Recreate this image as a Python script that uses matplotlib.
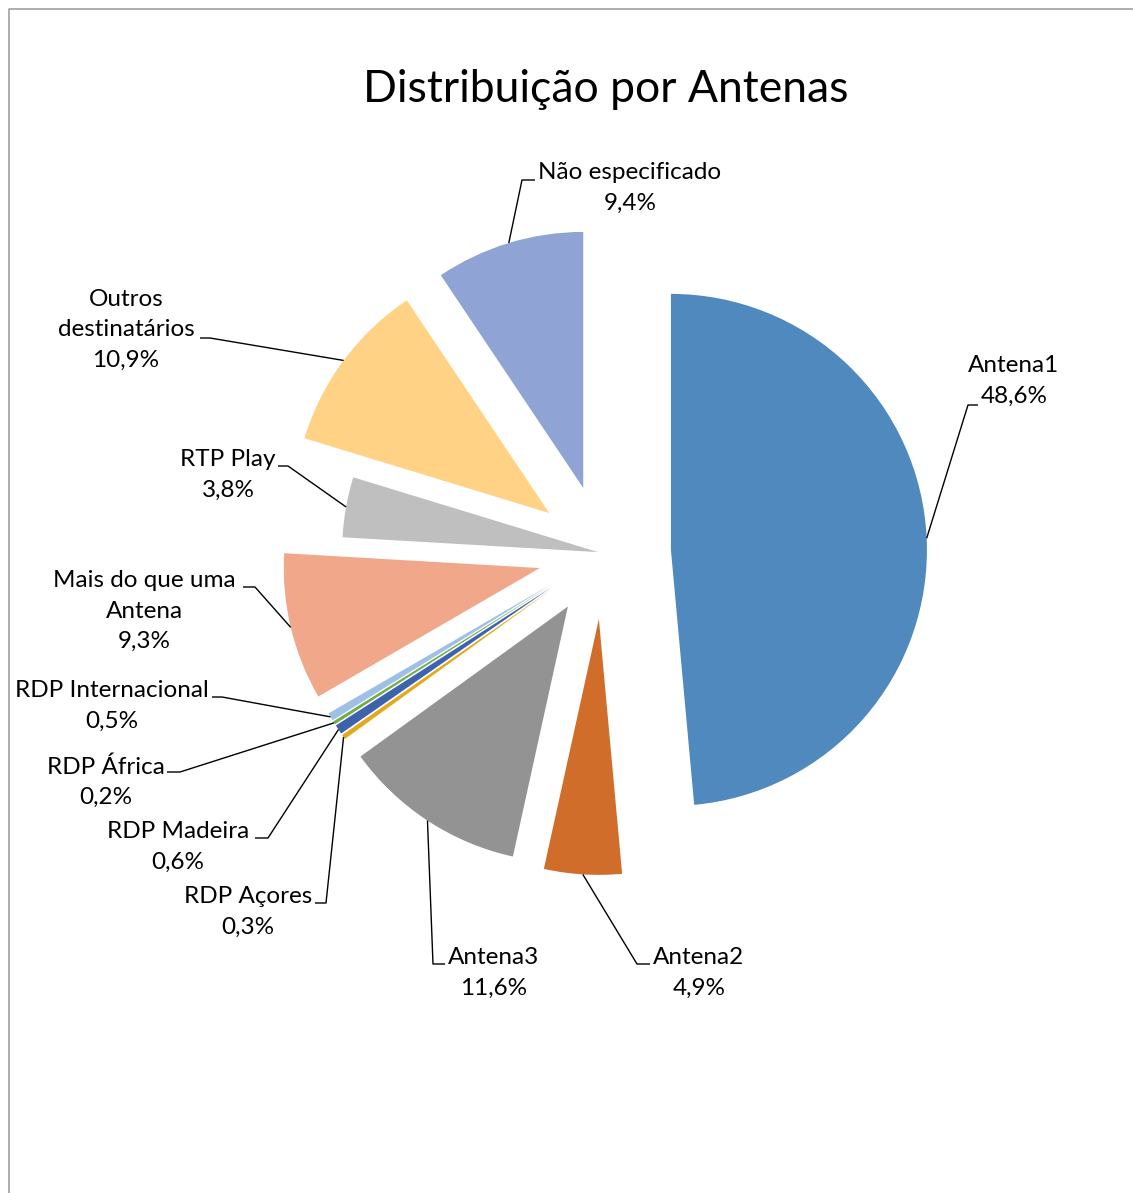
import matplotlib
matplotlib.use('Agg')
import matplotlib.pyplot as plt
import numpy as np

plt.rcParams['font.family'] = ['Lato', 'DejaVu Sans']

title = "Distribuição por Antenas"
categories = ["Antena1", "Antena2", "Antena3", "RDP Açores", "RDP Madeira",
              "RDP África", "RDP Internacional", "Mais do que uma\nAntena",
              "RTP Play", "Outros\ndestinatários", "Não especificado"]
values = [48.6, 4.9, 11.6, 0.3, 0.6, 0.2, 0.5, 9.3, 3.8, 10.9, 9.4]
colors = ["#4F89BD", "#D16D2B", "#939393", "#E3A91A", "#3D63AD",
          "#70AD47", "#9EC0E5", "#F1A78A", "#BFBFBF", "#FFD285", "#8FA4D4"]
# explode offsets in pixels (RTP Play is barely pulled out)
explode = [68, 66, 64, 62, 62, 62, 62, 65, 5, 67, 68]

W, H = 1133, 1193
def py(y):
    return H - y

# layout: (text block center x, y in pixels), leader elbow (x,y), horizontal end x
label_layout = [
    ((1014, 381), (968, 405), 978),
    ((699, 973), (637, 964), 650),
    ((494, 973), (433, 964), 445),
    ((248, 912), (326, 903), 315),
    ((178, 847), (268, 838), 255),
    ((106, 782), (180, 772), 167),
    ((112, 706), (222, 697), 212),
    ((144, 611), (255, 587), 243),
    ((228, 475), (288, 466), 278),
    ((126, 330), (210, 338), 200),
    ((630, 188), (522, 180), 535),
]

fig = plt.figure(figsize=(W / 100, H / 100), dpi=100)
ax = fig.add_axes([0, 0, 1, 1])

cx, cy, R = 603, py(553), 256
wedges, _ = ax.pie(values, colors=colors, startangle=90, counterclock=False,
                   radius=R, center=(cx, cy), explode=explode,
                   wedgeprops=dict(linewidth=0))
ax.set_xlim(0, W)
ax.set_ylim(0, H)
ax.set_aspect('equal')
ax.axis('off')

for w, cat, val, (tpos, elbow, endx) in zip(wedges, categories, values, label_layout):
    th = np.deg2rad((w.theta1 + w.theta2) / 2)
    sx = w.center[0] + w.r * np.cos(th)
    sy = w.center[1] + w.r * np.sin(th)
    ax.plot([sx, elbow[0], endx], [sy, py(elbow[1]), py(elbow[1])],
            color='black', lw=1.0, solid_capstyle='butt')
    txt = cat + "\n" + f"{val:.1f}".replace('.', ',') + "%"
    ax.text(tpos[0], py(tpos[1]), txt, ha='center', va='center',
            fontsize=17.5, linespacing=1.54, color='#000000')

ax.text(606, py(89), title, ha='center', va='center', fontsize=32, color='#000000')

# chart area border
ax.plot([8.5, 8.5, W + 5], [-5, py(8.5), py(8.5)], color='#A0A0A0', lw=1.2)

fig.savefig("out.png", dpi=100)
